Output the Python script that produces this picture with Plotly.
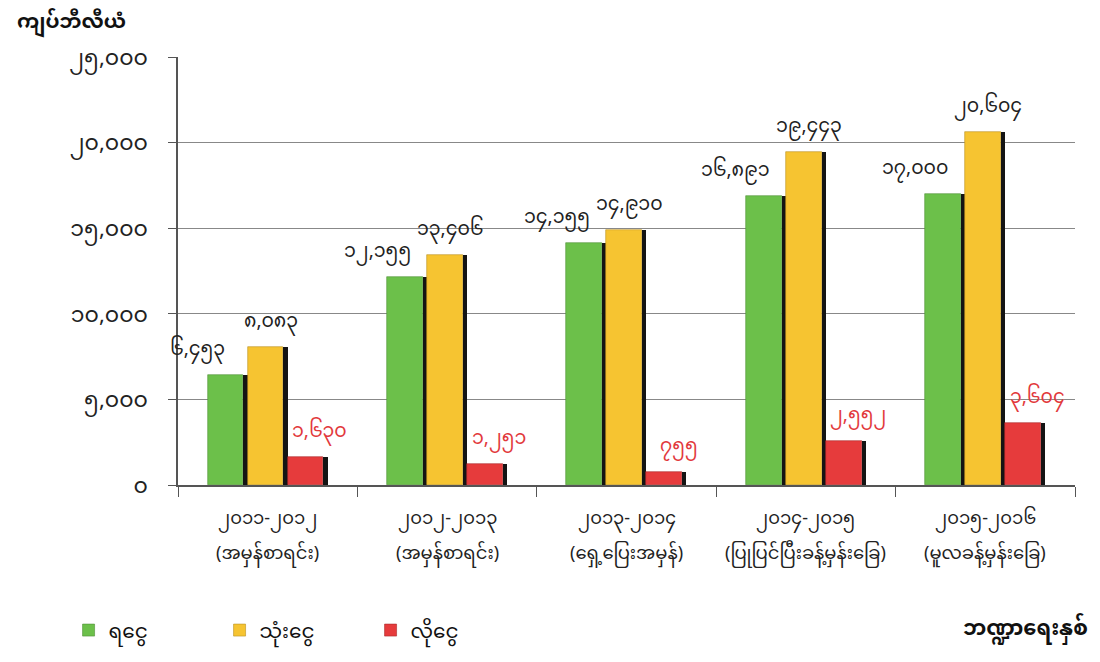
import plotly.graph_objects as go

categories = ["၂၀၁၁-၂၀၁၂", "၂၀၁၂-၂၀၁၃", "၂၀၁၃-၂၀၁၄", "၂၀၁၄-၂၀၁၅", "၂၀၁၅-၂၀၁၆"]
category_notes = ["(အမှန်စာရင်း)", "(အမှန်စာရင်း)", "(ရှေ့ပြေးအမှန်)",
                  "(ပြုပြင်ပြီးခန့်မှန်းခြေ)", "(မူလခန့်မှန်းခြေ)"]
series_names = ["ရငွေ", "သုံးငွေ", "လိုငွေ"]
revenue = [6453, 12155, 14155, 16891, 17000]
expenditure = [8083, 13406, 14910, 19443, 20604]
deficit = [1630, 1251, 755, 2552, 3604]
revenue_labels = ["၆,၄၅၃", "၁၂,၁၅၅", "၁၄,၁၅၅", "၁၆,၈၉၁", "၁၇,၀၀၀"]
expenditure_labels = ["၈,၀၈၃", "၁၃,၄၀၆", "၁၄,၉၁၀", "၁၉,၄၄၃", "၂၀,၆၀၄"]
deficit_labels = ["၁,၆၃၀", "၁,၂၅၁", "၇၅၅", "၂,၅၅၂", "၃,၆၀၄"]
y_tickvals = [0, 5000, 10000, 15000, 20000, 25000]
y_ticktext = ["၀", "၅,၀၀၀", "၁၀,၀၀၀", "၁၅,၀၀၀", "၂၀,၀၀၀", "၂၅,၀၀၀"]
y_title = "ကျပ်ဘီလီယံ"
x_title = "ဘဏ္ဍာရေးနှစ်"

FONT = "Noto Sans Myanmar, Padauk, Myanmar Text, Noto Sans, sans-serif"
colors = ["#6cc04a", "#f6c431", "#e63b3c"]
label_colors = ["#222222", "#222222", "#e2393c"]
edge = ["#4f8f35", "#b89020", "#a82a2a"]

series = [revenue, expenditure, deficit]
labels = [revenue_labels, expenditure_labels, deficit_labels]

bw = 0.2
sw = 0.023
starts = [-0.335, -0.112, 0.111]
label_shift = [-70, 3, 52]

fig = go.Figure()
for i in range(3):
    fig.add_trace(go.Bar(
        x=categories, y=series[i], name=series_names[i],
        offset=starts[i], width=bw,
        marker=dict(color=colors[i], line=dict(color=edge[i], width=0.6)),
        showlegend=True,
    ))
    fig.add_trace(go.Bar(
        x=categories, y=series[i], name=series_names[i] + "_s",
        offset=starts[i] + bw, width=sw,
        marker=dict(color="#141414", line=dict(width=0)),
        showlegend=False, hoverinfo="skip",
    ))

annotations = []
for i in range(3):
    for c, v, t in zip(categories, series[i], labels[i]):
        annotations.append(dict(
            x=c, y=v, text=t, showarrow=False, xref="x", yref="y",
            xshift=label_shift[i], yanchor="bottom", yshift=2,
            font=dict(family=FONT, size=19, color=label_colors[i]),
        ))

for c, note in zip(categories, category_notes):
    annotations.append(dict(x=c, y=-0.081, xref="x", yref="paper", text=c, showarrow=False,
                            yanchor="middle", font=dict(family=FONT, size=18, color="#222222")))
    annotations.append(dict(x=c, y=-0.163, xref="x", yref="paper", text=note, showarrow=False,
                            yanchor="middle", font=dict(family=FONT, size=18, color="#222222")))

annotations.append(dict(x=-0.182, y=1.078, xref="paper", yref="paper", text="<b>" + y_title + "</b>",
                        showarrow=False, xanchor="left", yanchor="middle",
                        font=dict(family=FONT, size=20, color="#111111")))
annotations.append(dict(x=1.017, y=-0.339, xref="paper", yref="paper", text="<b>" + x_title + "</b>",
                        showarrow=False, xanchor="right", yanchor="middle",
                        font=dict(family=FONT, size=21, color="#111111")))

fig.update_layout(
    width=1092, height=654,
    margin=dict(l=170, r=25, t=49, b=177),
    paper_bgcolor="white", plot_bgcolor="white",
    barmode="overlay", bargap=0,
    font=dict(family=FONT, size=16, color="#222222"),
    annotations=annotations,
    legend=dict(orientation="h", x=-0.122, y=-0.339, xanchor="left", yanchor="middle",
                entrywidth=106, entrywidthmode="pixels",
                font=dict(family=FONT, size=20, color="#111111"),
                itemwidth=30),
    showlegend=True,
)
fig.update_xaxes(
    type="category", tickson="boundaries", ticks="outside", ticklen=10,
    tickcolor="#555555", showline=True, linecolor="#555555", linewidth=1.5,
    showticklabels=False,
    showgrid=False, range=[-0.5, 4.5],
)
fig.update_yaxes(
    range=[0, 25000], tickvals=y_tickvals, ticktext=y_ticktext,
    ticks="outside", ticklen=8, tickcolor="#555555", ticklabelstandoff=16,
    showline=True, linecolor="#555555", linewidth=1.5,
    showgrid=True, gridcolor="#888888", gridwidth=1,
    tickfont=dict(family=FONT, size=22, color="#222222"),
    zeroline=False,
)

fig.write_html("out.html")
